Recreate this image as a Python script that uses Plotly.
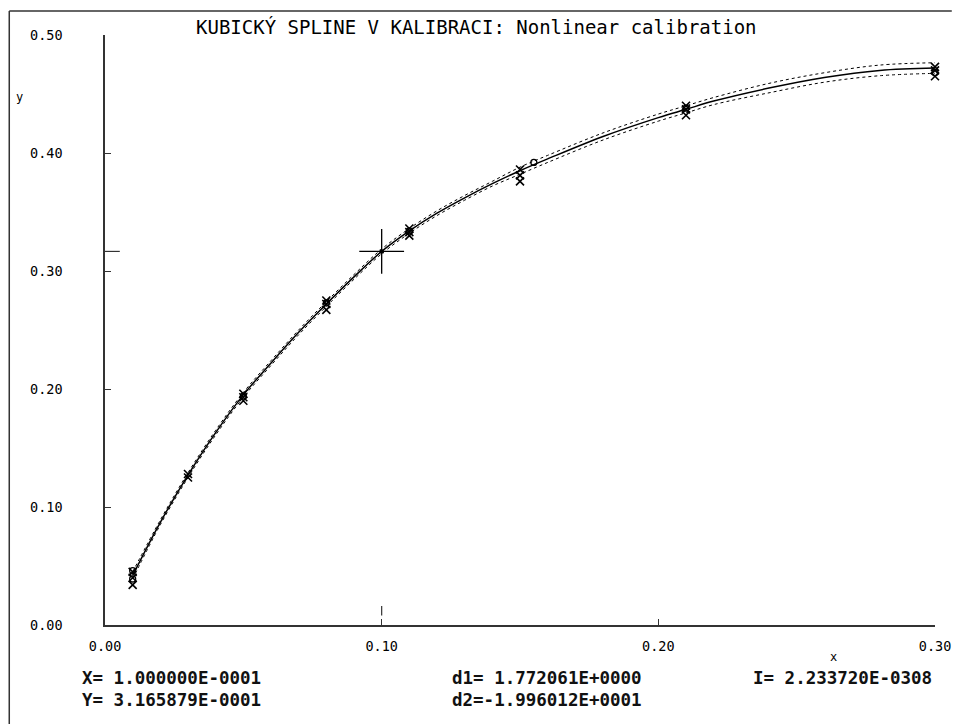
import plotly.graph_objects as go

# ---- data ----
meas_x = [0.01, 0.01, 0.01, 0.03, 0.03, 0.05, 0.05, 0.05, 0.08, 0.08, 0.08,
          0.11, 0.11, 0.11, 0.15, 0.15, 0.15, 0.21, 0.21, 0.21, 0.30, 0.30, 0.30]
meas_y = [0.034, 0.040, 0.045, 0.125, 0.128, 0.190, 0.193, 0.196, 0.267, 0.272, 0.275,
          0.330, 0.333, 0.336, 0.376, 0.381, 0.386, 0.432, 0.437, 0.440, 0.465, 0.470, 0.473]
circ_x = [0.01, 0.01, 0.05, 0.08, 0.11, 0.155, 0.21, 0.30]
circ_y = [0.039, 0.046, 0.194, 0.273, 0.334, 0.392, 0.438, 0.468]

curve_x = [0.01, 0.02, 0.03, 0.04, 0.05, 0.06, 0.07, 0.08, 0.09, 0.10, 0.11, 0.12,
           0.13, 0.14, 0.15, 0.16, 0.18, 0.20, 0.21, 0.22, 0.24, 0.26, 0.28, 0.30]
curve_y = [0.042, 0.087, 0.127, 0.163, 0.195, 0.222, 0.248, 0.272, 0.295, 0.3166, 0.334, 0.349,
           0.362, 0.374, 0.385, 0.395, 0.414, 0.430, 0.437, 0.444, 0.455, 0.464, 0.470, 0.472]
band_half = [0.003, 0.002, 0.002, 0.002, 0.002, 0.002, 0.002, 0.002, 0.002, 0.002, 0.002, 0.002,
             0.002, 0.002, 0.003, 0.003, 0.003, 0.003, 0.003, 0.003, 0.004, 0.004, 0.0045, 0.0045]

cursor_x = 0.10
cursor_y = 0.3165879

x_ticks = [0.0, 0.1, 0.2, 0.3]
x_tick_labels = ["0.00", "0.10", "0.20", "0.30"]
y_ticks = [0.0, 0.1, 0.2, 0.3, 0.4, 0.5]
y_tick_labels = ["0.00", "0.10", "0.20", "0.30", "0.40", "0.50"]

title_text = "KUBICKÝ SPLINE V KALIBRACI: Nonlinear calibration"
info_left = ["X= 1.000000E-0001", "Y= 3.165879E-0001"]
info_mid = ["d1= 1.772061E+0000", "d2=-1.996012E+0001"]
info_right = ["I= 2.233720E-0308"]

FONT = "DejaVu Sans Mono"

fig = go.Figure()
upper = [y + h for y, h in zip(curve_y, band_half)]
lower = [y - h for y, h in zip(curve_y, band_half)]
for band in (upper, lower):
    fig.add_trace(go.Scatter(x=curve_x, y=band, mode="lines",
                             line=dict(color="black", width=1, dash="dot", shape="spline"),
                             hoverinfo="skip"))
fig.add_trace(go.Scatter(x=curve_x, y=curve_y, mode="lines",
                         line=dict(color="black", width=1.5, shape="spline")))
fig.add_trace(go.Scatter(x=meas_x, y=meas_y, mode="markers",
                         marker=dict(symbol="x-thin-open", size=8, color="black",
                                     line=dict(color="black", width=1.6))))
fig.add_trace(go.Scatter(x=circ_x, y=circ_y, mode="markers",
                         marker=dict(symbol="circle-open", size=6, color="black",
                                     line=dict(color="black", width=1.3))))
fig.add_trace(go.Scatter(x=[cursor_x], y=[cursor_y], mode="markers",
                         marker=dict(symbol="cross-thin-open", size=32, color="black",
                                     line=dict(color="#333", width=1.3))))
fig.add_trace(go.Scatter(x=[cursor_x], y=[cursor_y], mode="markers",
                         marker=dict(symbol="square", size=4, color="black")))

L, R, T, B = 105, 946, 35, 625
W, H = 963, 724
def px(xp):
    return (xp - L) / (R - L)
def py(yp):
    return (B - yp) / (B - T)

shapes = [
    # outer frame (top and left edges visible in the window)
    dict(type="line", xref="paper", yref="paper", x0=px(8), x1=px(W), y0=py(11), y1=py(11),
         line=dict(color="#333", width=1.5)),
    dict(type="line", xref="paper", yref="paper", x0=px(8), x1=px(8), y0=py(11), y1=py(H),
         line=dict(color="#333", width=1.5)),
    # cursor indicators on the axes
    dict(type="line", xref="paper", yref="y", x0=0, x1=px(120), y0=cursor_y, y1=cursor_y,
         line=dict(color="#333", width=1.2)),
    dict(type="line", xref="x", yref="y", x0=cursor_x, x1=cursor_x, y0=0.008, y1=0.016,
         line=dict(color="#333", width=1.2)),
]

ann = []
ann.append(dict(text=title_text, x=px(481), y=py(27), xref="paper", yref="paper",
                xanchor="center", yanchor="middle", showarrow=False,
                font=dict(family=FONT, size=19, color="black")))
ann.append(dict(text="y", x=px(18), y=py(97), xref="paper", yref="paper",
                xanchor="center", yanchor="middle", showarrow=False,
                font=dict(family=FONT, size=12, color="black")))
ann.append(dict(text="x", x=px(843), y=py(657), xref="paper", yref="paper",
                xanchor="center", yanchor="middle", showarrow=False,
                font=dict(family=FONT, size=12, color="black")))
for xs, lines in ((80, info_left), (455, info_mid), (760, info_right)):
    for i, t in enumerate(lines):
        ann.append(dict(text="<b>" + t + "</b>", x=px(xs), y=py(678 + 22 * i),
                        xref="paper", yref="paper",
                        xanchor="left", yanchor="middle", showarrow=False,
                        font=dict(family=FONT, size=17.5, color="#111")))

fig.update_layout(
    width=W, height=H,
    margin=dict(l=L, r=W - R, t=T, b=H - B, pad=0),
    paper_bgcolor="white", plot_bgcolor="white",
    showlegend=False,
    shapes=shapes,
    annotations=ann,
    xaxis=dict(range=[0, 0.30], tickvals=x_ticks, ticktext=x_tick_labels,
               ticks="inside", ticklen=6, tickcolor="#333", showgrid=False, zeroline=False,
               showline=True, linecolor="#333", linewidth=1.5,
               tickfont=dict(family=FONT, size=13.5, color="black"), ticklabelstandoff=8),
    yaxis=dict(range=[0, 0.50], tickvals=y_ticks, ticktext=y_tick_labels,
               ticks="inside", ticklen=6, tickcolor="#333", showgrid=False, zeroline=False,
               showline=True, linecolor="#333", linewidth=1.5,
               tickfont=dict(family=FONT, size=13.5, color="black"), ticklabelstandoff=38),
)
for tr in fig.data:
    tr.cliponaxis = False

fig.write_html("out.html")
